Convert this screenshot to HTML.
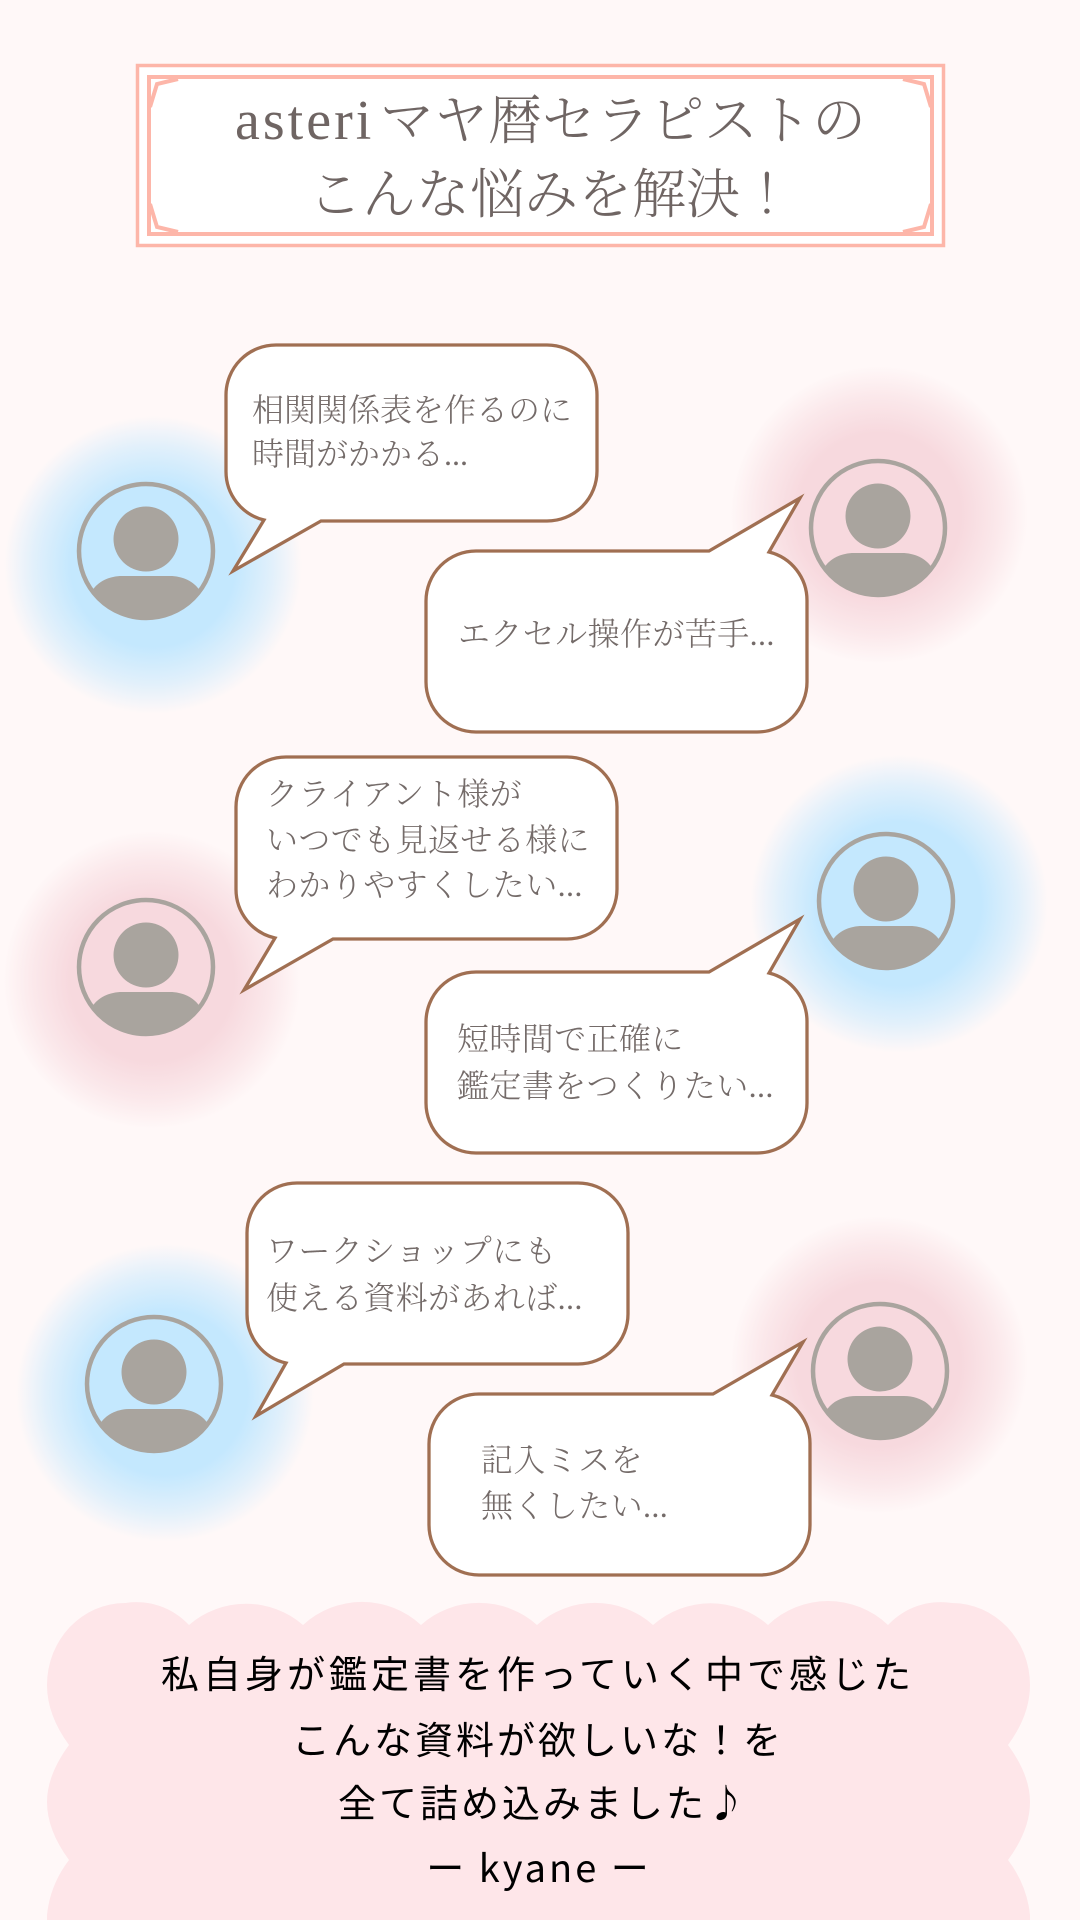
<!DOCTYPE html>
<html lang="ja"><head><meta charset="utf-8"><style>
html,body{margin:0;padding:0;background:#fff8f8;width:1080px;height:1920px;overflow:hidden}
svg{display:block}
.t{font-family:"Liberation Serif","Noto Serif CJK SC",serif;font-weight:300;font-size:32px;letter-spacing:.4px;fill:#746b69}
.h{font-family:"Liberation Serif","Noto Serif CJK SC",serif;font-weight:300;font-size:54px;letter-spacing:0;fill:#6f6563}
.b{font-family:"WenQuanYi Zen Hei","Noto Sans CJK JP",sans-serif;font-size:38px;letter-spacing:3px;fill:#000;text-anchor:middle}
.bub{fill:#fff;stroke:#a06f52;stroke-width:3.3;stroke-linejoin:miter}
</style></head><body>
<svg xmlns="http://www.w3.org/2000/svg" width="1080" height="1920" viewBox="0 0 1080 1920">
<defs>
<radialGradient id="bl"><stop offset="0" stop-color="#c4e8fe"/><stop offset=".55" stop-color="#c4e8fe"/><stop offset=".8" stop-color="#c4e8fe" stop-opacity=".5"/><stop offset="1" stop-color="#c4e8fe" stop-opacity="0"/></radialGradient>
<radialGradient id="pk"><stop offset="0" stop-color="#f7d9de"/><stop offset=".55" stop-color="#f7d9de"/><stop offset=".8" stop-color="#f7d9de" stop-opacity=".5"/><stop offset="1" stop-color="#f7d9de" stop-opacity="0"/></radialGradient>
<clipPath id="av"><circle cx="0" cy="0" r="67"/></clipPath>
<g id="avatar">
<circle cx="0" cy="0" r="67" fill="none" stroke="#a9a49e" stroke-width="4.5"/>
<circle cx="0" cy="-12" r="32.5" fill="#a9a49e"/>
<g clip-path="url(#av)"><path d="M-54 40C-48 30-36 25-24 25H24C36 25 48 30 54 40V75H-54Z" fill="#a9a49e"/></g>
</g>
</defs>
<rect width="1080" height="1920" fill="#fff8f8"/>

<!-- title -->
<rect x="137.5" y="65.5" width="806" height="180" fill="#fff" stroke="#fdb6a9" stroke-width="3.5"/>
<rect x="149" y="77" width="783" height="157" fill="#fff" stroke="#fdb6a9" stroke-width="4"/>
<path d="M178 79L157 84L150 107M903 79L924 84L931 107M178 232L157 227L150 204M903 232L924 227L931 204" fill="none" stroke="#fdb6a9" stroke-width="4"/>
<text class="h" x="235" y="139" style="font-size:56px;letter-spacing:3px">asteri</text>
<text class="h" x="380" y="139">マヤ暦セラピストの</text>
<text class="h" x="308" y="213">こんな悩みを解決！</text>

<!-- glows -->
<circle cx="153" cy="565" r="149" fill="url(#bl)"/>
<circle cx="879" cy="515" r="149" fill="url(#pk)"/>
<circle cx="152" cy="980" r="149" fill="url(#pk)"/>
<circle cx="899" cy="904" r="149" fill="url(#bl)"/>
<circle cx="165" cy="1393" r="149" fill="url(#bl)"/>
<circle cx="879" cy="1365" r="149" fill="url(#pk)"/>

<use href="#avatar" x="146" y="551"/>
<use href="#avatar" x="878" y="528"/>
<use href="#avatar" x="146" y="967"/>
<use href="#avatar" x="886" y="901"/>
<use href="#avatar" x="154" y="1384"/>
<use href="#avatar" x="880" y="1371"/>

<!-- bubbles -->
<path class="bub" d="M276 345H547A50 50 0 0 1 597 395V471A50 50 0 0 1 547 521H321L233 571L264 520A50 50 0 0 1 226 471V395A50 50 0 0 1 276 345Z"/>
<path class="bub" d="M769 552A50 50 0 0 1 807 601V682A50 50 0 0 1 757 732H476A50 50 0 0 1 426 682V601A50 50 0 0 1 476 551H709L800 498Z"/>
<path class="bub" d="M286 757H567A50 50 0 0 1 617 807V889A50 50 0 0 1 567 939H333L244 990L275 938A50 50 0 0 1 236 889V807A50 50 0 0 1 286 757Z"/>
<path class="bub" d="M769 973A50 50 0 0 1 807 1022V1103A50 50 0 0 1 757 1153H476A50 50 0 0 1 426 1103V1022A50 50 0 0 1 476 972H709L800 919Z"/>
<path class="bub" d="M297 1183H578A50 50 0 0 1 628 1233V1314A50 50 0 0 1 578 1364H344L256 1416L286 1363A50 50 0 0 1 247 1314V1233A50 50 0 0 1 297 1183Z"/>
<path class="bub" d="M772 1395A50 50 0 0 1 810 1444V1525A50 50 0 0 1 760 1575H479A50 50 0 0 1 429 1525V1444A50 50 0 0 1 479 1394H713L803 1342Z"/>

<text class="t" x="252" y="421" style="letter-spacing:0">相関関係表を作るのに</text>
<text class="t" x="252" y="465" style="letter-spacing:0">時間がかかる...</text>
<text class="t" x="458" y="645">エクセル操作が苦手...</text>
<text class="t" x="266" y="805">クライアント様が</text>
<text class="t" x="266" y="851">いつでも見返せる様に</text>
<text class="t" x="266" y="896">わかりやすくしたい...</text>
<text class="t" x="457" y="1050">短時間で正確に</text>
<text class="t" x="457" y="1097">鑑定書をつくりたい...</text>
<text class="t" x="266" y="1262">ワークショップにも</text>
<text class="t" x="266" y="1309">使える資料があれば...</text>
<text class="t" x="481" y="1471">記入ミスを</text>
<text class="t" x="481" y="1517">無くしたい...</text>

<!-- bottom cloud -->
<path fill="#fee6e9" d="M47 1920V1915Q50 1885 69 1860Q47 1830 47 1802Q47 1775 69 1745Q47 1715 47 1685A78 82 0 0 1 125 1603A72 72 0 0 1 189 1625A87 87 0 0 1 303 1625A87 87 0 0 1 421 1625A87 87 0 0 1 537 1625A87 87 0 0 1 653 1625A87 87 0 0 1 768 1625A87 87 0 0 1 888 1625A72 72 0 0 1 952 1603A78 82 0 0 1 1030 1685Q1030 1715 1008 1745Q1030 1775 1030 1802Q1030 1830 1008 1860Q1027 1885 1030 1915V1920Z"/>
<text class="b" x="538" y="1688" style="letter-spacing:4px">私自身が鑑定書を作っていく中で感じた</text>
<text class="b" x="538" y="1754" style="letter-spacing:3px">こんな資料が欲しいな！を</text>
<text class="b" x="543" y="1817">全て詰め込みました♪</text>
<text class="b" x="539" y="1882">ー kyane ー</text>
</svg>
</body></html>
